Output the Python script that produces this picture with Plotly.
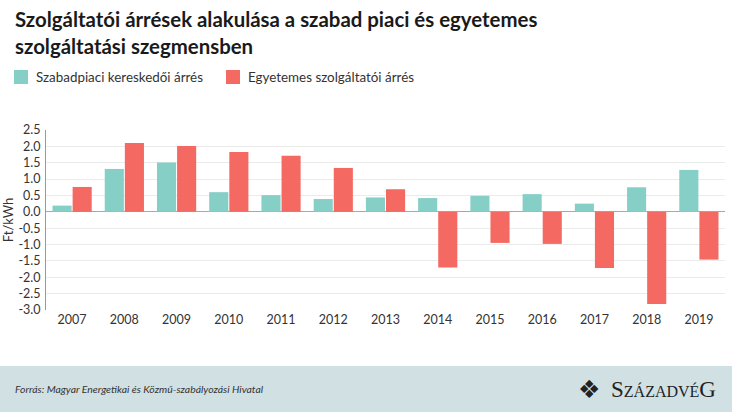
import plotly.graph_objects as go

years = ["2007", "2008", "2009", "2010", "2011", "2012", "2013",
         "2014", "2015", "2016", "2017", "2018", "2019"]
szabadpiaci = [0.19, 1.31, 1.51, 0.60, 0.51, 0.39, 0.44,
               0.42, 0.49, 0.54, 0.25, 0.75, 1.28]
egyetemes = [0.76, 2.10, 2.01, 1.83, 1.71, 1.34, 0.69,
             -1.70, -0.95, -0.98, -1.72, -2.82, -1.46]
series_names = ["Szabadpiaci kereskedői árrés", "Egyetemes szolgáltatói árrés"]
y_ticks = [2.5, 2.0, 1.5, 1.0, 0.5, 0.0, -0.5, -1.0, -1.5, -2.0, -2.5, -3.0]

TEAL = "#85cfc6"
RED = "#f46a62"
FONT = "Lato"
TXT = "#333333"

W, H = 732, 412
L, R, T, B = 46, 7, 130, 102
PW, PH = W - L - R, H - T - B


def px(x):
    return (x - L) / PW


def py(y):
    return (H - B - y) / PH


fig = go.Figure()
fig.add_trace(go.Bar(x=years, y=szabadpiaci, name=series_names[0],
                     marker=dict(color=TEAL, line=dict(width=0))))
fig.add_trace(go.Bar(x=years, y=egyetemes, name=series_names[1],
                     marker=dict(color=RED, line=dict(width=0))))

fig.update_layout(
    width=W, height=H, autosize=False,
    margin=dict(l=L, r=R, t=T, b=B, autoexpand=False),
    paper_bgcolor="white", plot_bgcolor="white",
    barmode="group", bargap=0.23, bargroupgap=0.05,
    showlegend=False,
    font=dict(family=FONT, color=TXT),
    xaxis=dict(type="category", showgrid=False, showline=False, ticks="",
               automargin=False,
               tickfont=dict(size=12.5, color=TXT), range=[-0.5, 12.5]),
    yaxis=dict(range=[-3.0, 2.5], tickvals=y_ticks, automargin=False,
               ticktext=[f"{v:.1f}" for v in y_ticks],
               showgrid=True, gridcolor="#ebebeb", gridwidth=1,
               zeroline=True, zerolinecolor="#a8a8a8", zerolinewidth=1.3,
               showline=True, linecolor="#9a9a9a", linewidth=1,
               tickfont=dict(size=12.5, color=TXT), ticklabelstandoff=2,
               title=dict(text="Ft/kWh", font=dict(size=13, color=TXT), standoff=4)),
)

# Title
fig.add_annotation(
    text="<b>Szolgáltatói árrések alakulása a szabad piaci és egyetemes<br>szolgáltatási szegmensben</b>",
    xref="paper", yref="paper", x=px(13), y=py(5), xanchor="left", yanchor="top",
    align="left", showarrow=False,
    font=dict(family=FONT, size=20.4, color="#1a1a1a"))

# Legend (manual)
legend_items = [(14, TEAL, series_names[0]), (226, RED, series_names[1])]
for x0, col, name in legend_items:
    fig.add_shape(type="rect", xref="paper", yref="paper",
                  x0=px(x0), x1=px(x0 + 14), y0=py(84), y1=py(70),
                  fillcolor=col, line=dict(width=0))
    fig.add_annotation(text=name, xref="paper", yref="paper",
                       x=px(x0 + 20), y=py(77), xanchor="left", yanchor="middle",
                       showarrow=False, font=dict(family=FONT, size=13.4, color=TXT))

# Footer band
fig.add_shape(type="rect", xref="paper", yref="paper",
              x0=px(0), x1=px(W), y0=py(H + 2), y1=py(366),
              fillcolor="#d0e0e3", line=dict(width=0), layer="below")

fig.add_annotation(text="<i>Forrás: Magyar Energetikai és Közmű-szabályozási Hivatal</i>",
                   xref="paper", yref="paper", x=px(13), xanchor="left",
                   y=py(389), yanchor="middle", showarrow=False,
                   font=dict(family=FONT, size=10.4, color=TXT))
fig.add_annotation(text="❖",
                   xref="paper", yref="paper", x=px(589), xanchor="center",
                   y=py(389), yanchor="middle", showarrow=False,
                   font=dict(family="DejaVu Sans", size=25, color="#222222"))
fig.add_annotation(text="<span style='font-size:23px'>S</span>ZÁZADVÉ<span style='font-size:23px'>G</span>",
                   xref="paper", yref="paper", x=px(718), xanchor="right",
                   y=py(389), yanchor="middle", showarrow=False,
                   font=dict(family="Liberation Serif", size=16, color="#222222"))

fig.write_html("out.html", config={"displayModeBar": False},
               post_script="document.body.style.margin='0px';document.body.style.overflow='hidden';")
